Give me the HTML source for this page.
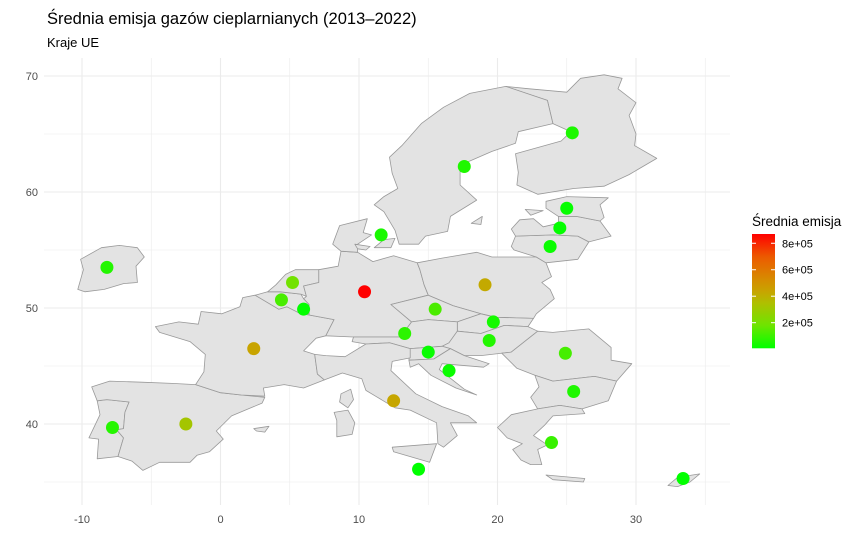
<!DOCTYPE html>
<html><head><meta charset="utf-8">
<style>
body{margin:0;background:#fff;font-family:"Liberation Sans",sans-serif;}
svg text{font-family:"Liberation Sans",sans-serif;}
</style></head>
<body>
<svg id="chart" width="864" height="551" xmlns="http://www.w3.org/2000/svg">
<text x="47" y="24" font-size="16.5" fill="#000">Średnia emisja gazów cieplarnianych (2013–2022)</text>
<text x="47" y="47" font-size="13" fill="#000">Kraje UE</text>
<g id="grid"></g>
<g id="land"></g>
<g id="pts"></g>
<g id="axes"></g>
<g id="legend"></g>
</svg>
<script>
const countries=["Finland","Sweden","Estonia","Latvia","Lithuania","Denmark","Ireland","Netherlands","Belgium","Luxembourg","Germany","Poland","Czechia","Austria","Slovakia","Hungary","Slovenia","Croatia","Romania","Bulgaria","Greece","Cyprus","Malta","Italy","France","Spain","Portugal"];
const lons=[25.4,17.6,25.0,24.5,23.8,11.6,-8.2,5.2,4.4,6.0,10.4,19.1,15.5,13.3,19.7,19.4,15.0,16.5,24.9,25.5,23.9,33.4,14.3,12.5,2.4,-2.5,-7.8];
const lats=[65.1,62.2,58.6,56.9,55.3,56.3,53.5,52.2,50.7,49.9,51.4,52.0,49.9,47.8,48.8,47.2,46.2,44.6,46.1,42.8,38.4,35.3,36.1,42.0,46.5,40.0,39.7];
const emis=[50000,55000,15000,11000,20000,45000,62000,190000,120000,10000,870000,420000,125000,75000,40000,60000,17000,22000,115000,55000,95000,9000,6500,430000,440000,320000,65000];
const xTicks=[-10,0,10,20,30];
const yTicks=[40,50,60,70];
const legendTicks=[200000,400000,600000,800000];
const legendLabels=["2e+05","4e+05","6e+05","8e+05"];

const NS="http://www.w3.org/2000/svg";
const X=lon=>220.5+lon*13.85;
const Y=lat=>888-lat*11.6;
function mk(tag,attrs,parent){const e=document.createElementNS(NS,tag);for(const k in attrs)e.setAttribute(k,attrs[k]);parent.appendChild(e);return e;}
const grid=document.getElementById('grid');
const PX0=44,PX1=730,PY0=58,PY1=505;
for(let v=-10;v<=35;v+=5){const major=v%10===0;const l=mk('line',{x1:X(v),x2:X(v),y1:PY0,y2:PY1,stroke:'#ebebeb','stroke-width':major?1.1:0.6},grid);

}
for(let v=35;v<=70;v+=5){const major=v%10===0;const l=mk('line',{x1:PX0,x2:PX1,y1:Y(v),y2:Y(v),stroke:'#ebebeb','stroke-width':major?1.1:0.6},grid);

}

const shapes={
Ireland:[[-10.3,51.6],[-9.9,53.3],[-10.1,54.2],[-8.6,55.2],[-7.3,55.4],[-6.0,55.2],[-5.5,54.4],[-6.1,53.6],[-6.0,52.2],[-7.0,52.1],[-8.4,51.6],[-9.8,51.4]],
Portugal:[[-8.9,42.0],[-8.2,42.1],[-6.6,41.9],[-6.9,41.0],[-7.0,39.6],[-7.5,39.5],[-7.0,38.8],[-7.4,37.2],[-8.9,37.0],[-8.8,38.7],[-9.5,38.8],[-8.7,40.8]],
Spain:[[-9.3,43.2],[-8.0,43.7],[-5.7,43.6],[-3.5,43.5],[-1.8,43.4],[0,42.7],[1.5,42.5],[3.2,42.3],[3.0,41.8],[0.8,40.7],[-0.3,39.4],[0.2,38.7],[-0.8,37.6],[-1.7,37.3],[-2.2,36.7],[-4.4,36.7],[-5.6,36.0],[-6.4,36.8],[-7.4,37.2],[-7.0,38.8],[-7.5,39.5],[-7.0,39.6],[-6.9,41.0],[-6.6,41.9],[-8.2,42.1],[-8.9,42.0]],
Mallorca:[[2.4,39.6],[3.5,39.8],[3.2,39.3],[2.6,39.4]],
France:[[-4.7,48.4],[-3.0,48.8],[-1.6,48.6],[-1.4,49.7],[0.1,49.5],[1.4,50.1],[1.6,50.9],[2.5,51.1],[4.2,49.9],[4.8,50.1],[5.8,49.5],[6.4,49.4],[8.2,49.0],[7.6,47.6],[6.9,47.4],[6.0,46.3],[6.8,46.0],[7.0,44.3],[7.5,43.8],[6.0,43.1],[4.6,43.4],[3.1,43.1],[3.2,42.4],[1.5,42.5],[0,42.7],[-1.8,43.4],[-1.2,44.5],[-1.1,46.0],[-2.2,47.1],[-4.4,47.9]],
Corsica:[[9.4,43.0],[9.6,42.1],[9.2,41.4],[8.6,41.9],[8.7,42.6]],
Belgium:[[2.5,51.1],[3.4,51.4],[4.3,51.4],[5.8,51.2],[6.0,50.8],[6.4,50.3],[5.8,49.5],[4.8,50.1],[4.2,49.9]],
Luxembourg:[[5.8,49.5],[6.4,49.5],[6.4,50.1],[6.0,50.2]],
Netherlands:[[3.4,51.4],[4.0,52.0],[4.7,52.9],[5.4,53.3],[7.1,53.3],[7.1,52.2],[6.0,51.9],[6.2,51.0],[5.8,51.2],[4.3,51.4]],
Germany:[[6.0,51.9],[7.1,52.2],[7.1,53.3],[8.5,53.6],[8.7,54.9],[9.9,54.8],[11.0,54.0],[12.5,54.5],[14.2,53.9],[14.4,53.3],[14.7,52.0],[15.0,51.1],[12.3,50.3],[13.8,48.8],[13.0,47.5],[10.5,47.5],[9.6,47.5],[7.6,47.6],[8.2,49.0],[6.4,49.4],[6.4,50.3],[6.0,50.8],[6.2,51.0]],
Jutland:[[8.1,55.5],[8.6,57.1],[10.6,57.7],[10.3,56.5],[10.9,56.3],[9.9,55.5],[9.9,54.8],[8.7,54.9]],
Zealand:[[11.1,55.2],[11.8,55.9],[12.6,56.0],[12.3,55.2]],
Funen:[[9.7,55.5],[10.8,55.3],[10.5,55.0],[9.9,55.1]],
Poland:[[14.2,53.9],[16.0,54.3],[18.5,54.8],[19.6,54.4],[22.8,54.4],[23.5,53.9],[23.9,52.7],[23.2,52.2],[23.8,51.6],[24.1,50.8],[22.8,49.5],[22.6,49.1],[19.9,49.2],[18.8,49.5],[16.8,50.2],[15.0,51.1],[14.7,52.0],[14.4,53.3]],
Czechia:[[12.3,50.3],[15.0,51.1],[16.8,50.2],[18.8,49.5],[17.1,48.8],[15.0,49.0],[13.8,48.8]],
Slovakia:[[17.1,48.8],[18.8,49.5],[19.9,49.2],[22.6,49.1],[22.2,48.4],[20.5,48.5],[18.8,47.8],[17.1,48.0]],
Austria:[[9.6,47.5],[10.5,47.5],[13.0,47.5],[13.8,48.8],[15.0,49.0],[17.1,48.8],[17.1,48.0],[16.5,47.0],[16.0,46.7],[13.7,46.5],[12.2,47.0],[10.5,46.9],[9.5,47.1]],
Hungary:[[16.0,46.7],[16.5,47.0],[17.1,48.0],[18.8,47.8],[20.5,48.5],[22.2,48.4],[22.9,48.0],[21.0,46.2],[18.8,45.9],[17.6,45.9],[16.6,46.5]],
Slovenia:[[13.7,46.5],[16.0,46.7],[16.6,46.5],[15.4,45.6],[13.6,45.5]],
Croatia:[[13.6,45.5],[15.4,45.6],[16.6,46.5],[17.6,45.9],[19.4,45.2],[19.0,44.9],[16.0,45.2],[15.8,44.7],[17.6,43.0],[18.5,42.5],[17.0,43.1],[15.2,44.2],[14.3,45.2],[13.7,44.9]],
Italy:[[6.8,46.0],[7.0,44.3],[7.5,43.8],[8.8,44.4],[10.2,43.9],[10.5,42.9],[11.2,42.4],[12.6,41.4],[13.7,41.2],[15.6,40.1],[15.7,38.3],[16.1,38.0],[17.1,39.0],[16.6,40.1],[18.5,40.1],[17.9,40.7],[16.0,41.5],[14.1,42.6],[12.3,44.6],[12.4,45.4],[13.7,45.7],[13.7,46.5],[12.2,47.0],[10.5,46.9],[9.0,45.8],[7.6,45.9]],
Sicily:[[12.4,38.0],[15.6,38.3],[15.1,36.7],[12.5,37.6]],
Sardinia:[[8.2,41.0],[9.2,41.2],[9.7,40.1],[9.5,39.1],[8.4,38.9],[8.4,40.3]],
MaltaIsland:[[14.2,35.95],[14.6,35.95],[14.5,35.8]],
Romania:[[22.9,48.0],[24.0,47.9],[26.6,48.2],[28.2,46.6],[28.2,45.5],[29.7,45.2],[28.6,43.7],[27.0,44.1],[24.0,43.7],[22.7,44.2],[21.4,44.8],[20.3,46.1],[21.0,46.2]],
Bulgaria:[[22.7,44.2],[24.0,43.7],[27.0,44.1],[28.6,43.7],[28.0,42.0],[26.1,41.3],[24.5,41.6],[22.9,41.3],[22.4,42.3],[23.0,43.2]],
Greece:[[20.0,39.7],[21.0,40.8],[22.9,41.3],[24.5,41.6],[26.1,41.3],[26.3,40.9],[24.0,40.7],[23.4,39.9],[22.6,39.0],[23.6,38.2],[22.9,37.8],[23.2,36.5],[22.4,36.5],[21.7,36.9],[21.1,37.8],[21.8,38.3],[20.7,38.8]],
Crete:[[23.5,35.6],[26.3,35.3],[26.2,35.0],[24.0,35.2]],
CyprusIsland:[[32.3,34.7],[33.0,35.4],[34.6,35.7],[33.9,35.0],[33.0,34.6]],
Lithuania:[[21.0,55.3],[21.3,56.2],[24.0,56.3],[25.8,56.2],[26.6,55.7],[25.8,54.2],[23.5,53.9],[22.8,54.4],[21.2,55.0]],
Latvia:[[21.0,56.8],[21.6,57.6],[22.6,57.7],[23.3,57.0],[24.4,57.3],[24.4,57.9],[25.7,57.9],[27.4,57.5],[28.2,56.2],[26.6,55.7],[25.8,56.2],[24.0,56.3],[21.3,56.2]],
Estonia:[[23.5,59.2],[25.0,59.6],[28.0,59.5],[27.4,58.9],[27.7,57.8],[27.4,57.5],[25.7,57.9],[24.4,57.9],[23.5,58.6]],
Saaremaa:[[22.0,58.5],[23.3,58.4],[22.4,58.0]],
Finland:[[21.4,60.6],[22.9,59.8],[25.5,60.3],[27.7,60.5],[29.5,61.5],[31.5,62.9],[29.9,64.0],[30.0,65.0],[29.5,66.6],[30.0,67.7],[28.7,68.9],[29.0,69.8],[27.7,70.1],[26.0,69.8],[25.0,68.6],[22.3,68.9],[20.6,69.1],[23.6,67.9],[24.0,65.9],[25.3,65.2],[24.6,64.4],[21.3,63.3],[21.5,61.7]],
Sweden:[[11.1,58.9],[11.8,58.3],[12.6,56.7],[12.9,55.5],[14.3,55.5],[14.8,56.2],[16.4,56.6],[16.6,57.9],[18.5,59.3],[17.3,60.6],[17.3,62.3],[19.6,63.5],[21.3,64.2],[21.5,65.2],[24.0,65.9],[23.6,67.9],[20.6,69.1],[18.0,68.5],[16.1,67.3],[14.5,65.9],[13.1,64.0],[12.2,63.0],[12.4,61.6],[12.8,60.3],[11.8,59.6]],
Gotland:[[18.1,57.3],[18.9,57.9],[18.8,57.2]]
};
const land=document.getElementById('land');
for(const k in shapes){const p=mk('polygon',{points:shapes[k].map(c=>X(c[0]).toFixed(1)+','+Y(c[1]).toFixed(1)).join(' '),fill:'#e3e3e3',stroke:'#999','stroke-width':0.8,'stroke-linejoin':'round'},land);

}

const vmin=Math.min(...emis),vmax=Math.max(...emis);
const stops=[[0,[0,255,0]],[0.2,[110,228,0]],[0.4,[176,190,0]],[0.5,[200,164,0]],[0.6,[214,140,0]],[0.8,[236,90,0]],[1,[255,0,0]]];
function col(v){let t=(v-vmin)/(vmax-vmin);t=Math.max(0,Math.min(1,t));for(let i=1;i<stops.length;i++){if(t<=stops[i][0]){const a=stops[i-1],b=stops[i];const f=(t-a[0])/(b[0]-a[0]);const c=a[1].map((x,j)=>Math.round(x+(b[1][j]-x)*f));return 'rgb('+c.join(',')+')';}}return 'rgb(255,0,0)';}
const pts=document.getElementById('pts');
countries.forEach((c,i)=>{const e=mk('circle',{cx:X(lons[i]),cy:Y(lats[i]),r:6.5,fill:col(emis[i])},pts);

});

const axes=document.getElementById('axes');
xTicks.forEach(v=>{const t=mk('text',{x:X(v),y:523,'font-size':11,fill:'#4d4d4d','text-anchor':'middle'},axes);t.textContent=v;

});
yTicks.forEach(v=>{const t=mk('text',{x:38,y:Y(v)+4,'font-size':11,fill:'#4d4d4d','text-anchor':'end'},axes);t.textContent=v;

});

const lg=document.getElementById('legend');
const lt=mk('text',{x:752,y:226,'font-size':13.5,fill:'#000'},lg);lt.textContent='Średnia emisja';


const defs=mk('defs',{},lg);
const grad=mk('linearGradient',{id:'lgGrad',x1:0,y1:1,x2:0,y2:0},defs);
for(let i=0;i<=20;i++){mk('stop',{offset:(i/20),'stop-color':col(vmin+(vmax-vmin)*i/20)},grad);}
const LT=234,LB=348.3;
const LY=v=>LB-(v-vmin)/(vmax-vmin)*(LB-LT);
const bar=mk('rect',{x:752,y:LT,width:23,height:LB-LT,fill:'url(#lgGrad)'},lg);


legendTicks.forEach((v,i)=>{
mk('line',{x1:752,x2:756,y1:LY(v),y2:LY(v),stroke:'#fff','stroke-width':1},lg);
mk('line',{x1:771,x2:775,y1:LY(v),y2:LY(v),stroke:'#fff','stroke-width':1},lg);
const t=mk('text',{x:782,y:LY(v)+4,'font-size':11,fill:'#000'},lg);t.textContent=legendLabels[i];

});
</script>
</body></html>
